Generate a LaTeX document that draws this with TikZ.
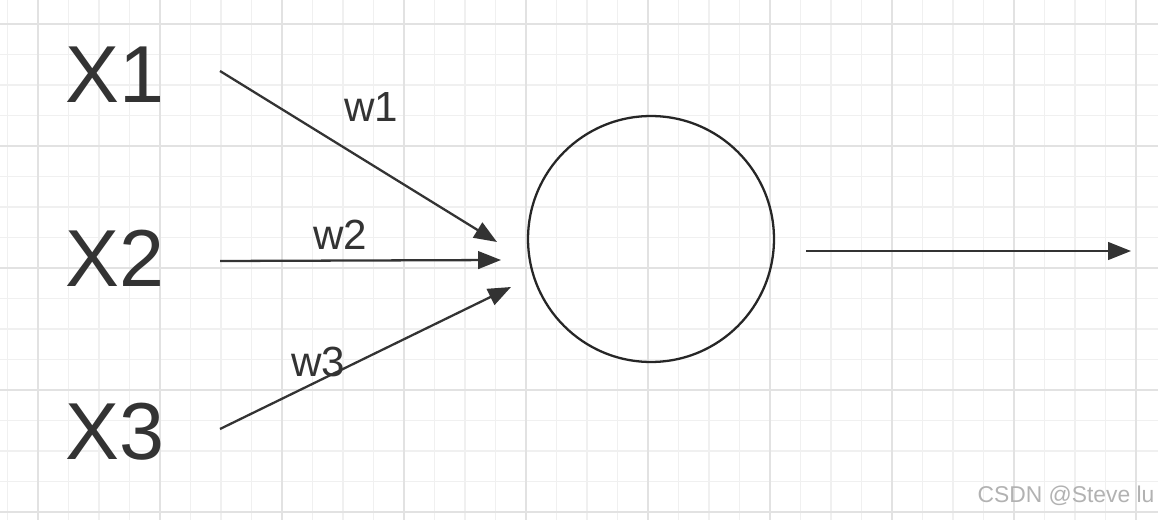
\documentclass[tikz,border=0pt]{standalone}
\usepackage{fontspec}
\setmainfont{Liberation Sans}
\usepackage{xcolor}
\usepackage{tikz}
\usetikzlibrary{arrows.meta}

\definecolor{inkgray}{HTML}{333333}
\definecolor{minorline}{HTML}{F0F0F0}
\definecolor{majorline}{HTML}{E2E2E2}

\begin{document}
\begin{tikzpicture}[
    x=0.02cm, y=-0.02cm,
    every node/.style={text=inkgray, inner sep=0pt},
    inlabel/.style={font=\fontsize{46}{46}\selectfont},
    wlabel/.style={font=\fontsize{24}{24}\selectfont},
    neuron/.style={circle, draw=black!85, line width=1.3pt, minimum size=4.92cm},
    arrow/.style={-{Triangle[length=13pt, width=10pt]}, line width=1.3pt, draw=inkgray},
    minorgrid/.style={draw=minorline, line width=0.9pt},
    majorgrid/.style={draw=majorline, line width=1.1pt}
]
\useasboundingbox (0,0) rectangle (1158,520);
\fill[white] (0,0) rectangle (1158,520);

% === Background grid ===
\foreach \gx in {0,...,38} {
    \draw[minorgrid] (7.5+30.5*\gx,0) -- (7.5+30.5*\gx,520);
}
\foreach \gy in {0,...,17} {
    \draw[minorgrid] (0,-6.5+30.5*\gy) -- (1158,-6.5+30.5*\gy);
}
\foreach \gx in {0,...,9} {
    \draw[majorgrid] (38+122*\gx,0) -- (38+122*\gx,520);
}
\foreach \gy in {0,...,4} {
    \draw[majorgrid] (0,24+122*\gy) -- (1158,24+122*\gy);
}

% === Inputs ===
\node[inlabel] (x1) at (115,75) {X1};
\node[inlabel] (x2) at (115,258) {X2};
\node[inlabel] (x3) at (115,432) {X3};

\coordinate (in1) at (220,71);
\coordinate (in2) at (220,261);
\coordinate (in3) at (220,429);
\coordinate (end1) at (497,242);
\coordinate (end2) at (501,260);
\coordinate (end3) at (511,287);

% === Neuron ===
\node[neuron] (cell) at (651,239) {};

\coordinate (outstart) at (806,251);
\coordinate (outend) at (1131,251);

% Weighted connections
\draw[arrow] (in1) -- (end1);
\draw[arrow] (in2) -- (end2);
\draw[arrow] (in3) -- (end3);
\draw[arrow] (outstart) -- (outend);

\node[wlabel] (w1) at (371,107) {w1};
\node[wlabel] (w2) at (340,235) {w2};
\node[wlabel] (w3) at (318,362) {w3};

% Watermark
\node[font=\fontsize{13}{13}\selectfont, text=black!30] (mark) at (1066,496) {CSDN @Steve lu};

\end{tikzpicture}
\end{document}
